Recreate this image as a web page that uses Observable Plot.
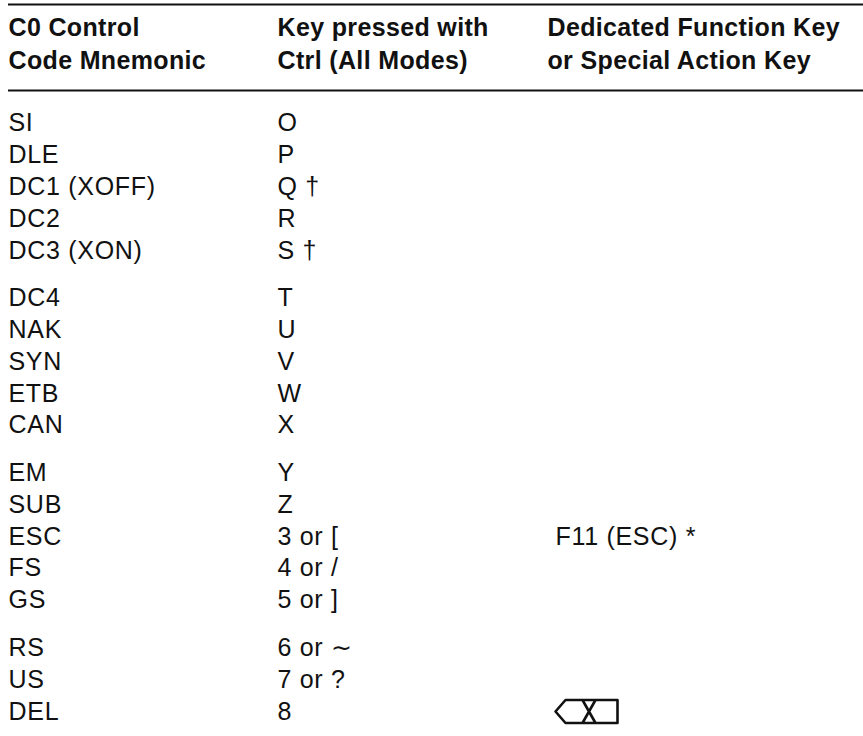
<!DOCTYPE html>
<html><head><meta charset="utf-8">
<script src="https://cdn.jsdelivr.net/npm/d3@7"></script>
<script src="https://cdn.jsdelivr.net/npm/@observablehq/plot@0.6"></script>
<style>html,body{margin:0;padding:0;background:#fff}svg{display:block}
.head text{letter-spacing:.35px}.body text{letter-spacing:.7px}</style>
</head><body><div id="c"></div>
<script>
const columns = ["mnemonic","key","special"];
const headerLine1 = ["C0 Control","Key pressed with","Dedicated Function Key"];
const headerLine2 = ["Code Mnemonic","Ctrl (All Modes)","or Special Action Key"];
const mnemonics = ["SI","DLE","DC1 (XOFF)","DC2","DC3 (XON)","DC4","NAK","SYN","ETB","CAN","EM","SUB","ESC","FS","GS","RS","US","DEL"];
const keys = ["O","P","Q †","R","S †","T","U","V","W","X","Y","Z","3 or [","4 or /","5 or ]","6 or ∼","7 or ?","8"];
const specials = {"ESC":"F11 (ESC) *"};
const iconRow = "DEL";
const groupSize = 5, groupGap = 0.5;
const rowPos = i => i + Math.floor(i/groupSize)*groupGap;
const body = mnemonics.flatMap((m,i)=>[
  {c:"mnemonic",t:m,r:rowPos(i)},
  {c:"key",t:keys[i],r:rowPos(i)}
]);
const special = Object.keys(specials).map(m=>({c:"special",t:specials[m],r:rowPos(mnemonics.indexOf(m))}));
const head = columns.flatMap((c,i)=>[{c,t:headerLine1[i],r:-2.99},{c,t:headerLine2[i],r:-1.95}]);
const rules = [-3.74,-1.04];
const font = "Liberation Sans, Helvetica, Arial, sans-serif";
// Delete-key glyph, as a custom dot symbol
const deleteKey = {draw(ctx){
  ctx.moveTo(-31,0);ctx.lineTo(-21,-11.5);ctx.lineTo(31,-11.5);ctx.lineTo(31,11.5);ctx.lineTo(-21,11.5);ctx.closePath();
  ctx.moveTo(-4,-11.5);ctx.lineTo(9,11.5);ctx.moveTo(9,-11.5);ctx.lineTo(-4,11.5);
}};
document.getElementById("c").append(Plot.plot({
  width:863,height:736,marginTop:0,marginRight:0,marginBottom:0,marginLeft:8,
  x:{type:"ordinal",domain:columns,range:[8,277,547],axis:null},
  y:{type:"linear",domain:[-4,18.5],range:[-4.2,711],axis:null},
  marks:[
    Plot.ruleY(rules,{stroke:"#111",strokeWidth:2}),
    Plot.text(head,{x:"c",y:"r",text:"t",textAnchor:"start",fontSize:25,fontWeight:"bold",fontFamily:font,fill:"#111",className:"head"}),
    Plot.text(body,{x:"c",y:"r",text:"t",textAnchor:"start",fontSize:25,fontFamily:font,fill:"#111",className:"body"}),
    Plot.text(special,{x:"c",y:"r",text:"t",dx:8,textAnchor:"start",fontSize:25,fontFamily:font,fill:"#111",className:"body"}),
    Plot.dot([iconRow],{x:()=>"special",y:m=>rowPos(mnemonics.indexOf(m)),dx:39,symbol:deleteKey,r:10,stroke:"#111",strokeWidth:2.6,strokeLinejoin:"round",fill:"none"})
  ]
}));
</script></body></html>
